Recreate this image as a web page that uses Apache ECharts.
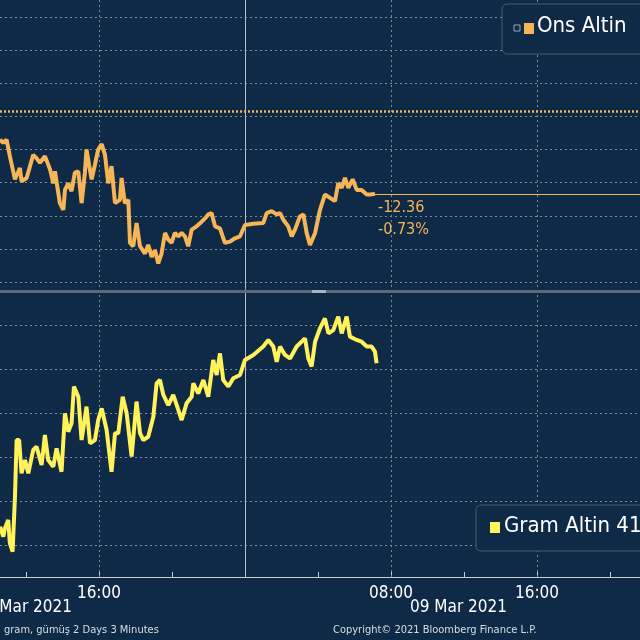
<!DOCTYPE html>
<html>
<head>
<meta charset="utf-8">
<script src="https://cdn.jsdelivr.net/npm/echarts@6/dist/echarts.min.js"></script>
<style>
  html,body{margin:0;padding:0;background:#0f2a47;}
  #main{width:640px;height:640px;}
</style>
</head>
<body>
<div id="main"></div>
<script>
// hours relative to 09 Mar 2021 00:00
var onsHours = [-13.42,-13.24,-13.06,-12.88,-12.60,-12.33,-12.24,-11.96,-11.60,-11.42,-11.23,-10.96,-10.68,-10.50,-10.41,-10.14,-9.95,-9.86,-9.68,-9.50,-9.32,-9.13,-8.95,-8.77,-8.68,-8.53,-8.40,-8.22,-8.04,-7.85,-7.67,-7.49,-7.31,-7.12,-6.85,-6.76,-6.58,-6.39,-6.30,-6.12,-5.94,-5.75,-5.48,-5.30,-5.11,-4.93,-4.75,-4.57,-4.38,-4.20,-4.02,-3.84,-3.65,-3.47,-3.29,-3.11,-2.92,-2.65,-2.37,-2.19,-2.01,-1.83,-1.64,-1.37,-1.10,-0.82,-0.55,-0.27,0,0.46,1.00,1.19,1.46,1.74,1.92,2.10,2.37,2.56,2.74,3.01,3.20,3.38,3.56,3.84,4.11,4.38,4.66,4.93,5.11,5.30,5.48,5.66,5.90,6.12,6.39,6.67,6.85,7.12];
var onsValues = [1691.5,1691.0,1691.5,1689.0,1685.5,1687.2,1685.2,1685.7,1689.2,1688.7,1688.0,1689.0,1687.0,1684.9,1686.7,1681.9,1680.9,1683.9,1684.9,1683.7,1686.5,1686.7,1681.9,1686.5,1690.0,1687.5,1685.5,1687.7,1690.0,1690.8,1689.2,1684.9,1687.5,1681.9,1682.4,1685.7,1681.9,1682.4,1675.9,1675.4,1678.9,1675.4,1674.3,1675.6,1673.8,1674.8,1672.8,1674.3,1677.4,1676.4,1675.9,1677.4,1676.9,1677.4,1676.9,1675.4,1677.9,1678.4,1679.1,1679.6,1680.2,1680.4,1678.4,1678.1,1675.9,1676.1,1676.6,1676.9,1678.6,1678.8,1678.9,1680.4,1680.7,1680.2,1680.4,1679.4,1678.4,1676.9,1677.9,1679.9,1680.2,1677.4,1675.6,1677.4,1680.9,1683.2,1682.7,1682.2,1684.9,1684.2,1685.7,1684.2,1685.5,1683.9,1683.9,1683.2,1683.2,1683.3];
var onsPrevClose = 1695.7;

var gramHours = [-13.42,-13.24,-13.15,-12.97,-12.88,-12.73,-12.60,-12.51,-12.37,-12.24,-12.05,-11.87,-11.60,-11.42,-11.14,-10.96,-10.78,-10.50,-10.32,-10.05,-9.86,-9.68,-9.50,-9.37,-9.13,-8.95,-8.68,-8.49,-8.22,-8.04,-7.85,-7.58,-7.31,-7.12,-6.94,-6.70,-6.48,-6.21,-5.94,-5.75,-5.57,-5.30,-5.02,-4.84,-4.66,-4.47,-4.20,-3.93,-3.65,-3.47,-3.20,-2.92,-2.83,-2.56,-2.28,-2.01,-1.74,-1.55,-1.37,-1.19,-0.91,-0.64,-0.27,0,0.46,1.00,1.28,1.55,1.74,1.92,2.19,2.47,2.83,3.29,3.47,3.65,3.84,4.11,4.38,4.57,4.84,5.11,5.30,5.57,5.75,6.12,6.39,6.67,6.94,7.12,7.21];
var gramValues = [404.83,404.38,404.76,405.14,404.08,403.70,406.20,408.77,408.77,407.26,407.86,407.26,408.32,408.47,407.64,409.00,407.86,407.56,408.39,407.33,409.98,409.15,409.53,411.20,410.74,408.77,410.29,408.62,408.77,409.68,410.21,409.23,407.33,409.08,409.08,410.74,409.98,408.02,410.52,409.08,408.77,408.92,409.83,411.35,411.50,410.82,410.36,410.82,410.14,409.68,410.44,410.74,411.35,410.89,411.50,410.74,412.41,411.73,412.71,411.50,411.20,411.58,411.73,412.41,412.64,413.02,413.32,413.02,412.33,413.02,412.64,412.48,413.02,413.39,412.48,412.11,413.24,413.85,414.30,413.62,413.77,414.38,413.62,414.38,413.47,413.32,413.24,413.02,413.02,412.79,412.26];

var xMin = -13.42, xMax = 21.64;
var tickHours = [-12,-8,-4,0,4,8,12,16,20];
var labelHours = [-8,8,16];
var tickLabels = {'-8':'16:00','8':'08:00','16':'16:00'};
var dateLabels = ['08 Mar 2021','09 Mar 2021'];

function pairs(xs, ys){ return xs.map(function(x,i){ return [x, ys[i]]; }); }

var FONT = '"Liberation Sans Narrow","DejaVu Sans Condensed",sans-serif';
var gridLine = {show:true, lineStyle:{color:'#7f8b9b', type:[2,3], width:1}};
var dash = {color:'#7f8b9b', type:[2,3], width:1};
var chart = echarts.init(document.getElementById('main'));
var lastOns = onsValues[onsValues.length-1];
var lastH = onsHours[onsHours.length-1];

var option = {
  backgroundColor:'#0f2a47',
  animation:false,
  grid:[
    {left:0, right:0, top:17, height:265},
    {left:0, right:0, top:325, height:220},
    {left:0, right:0, top:0, height:577}
  ],
  xAxis:[
    {gridIndex:0, type:'value', min:xMin, max:xMax, show:false},
    {gridIndex:1, type:'value', min:xMin, max:xMax, show:false},
    {gridIndex:2, type:'value', min:xMin, max:xMax,
     axisLine:{show:true, lineStyle:{color:'#c8ced6', width:1}},
     axisTick:{show:true, inside:true, length:5, customValues:tickHours, lineStyle:{color:'#c8ced6'}},
     splitLine:{show:false},
     axisLabel:{color:'#ffffff', fontSize:17, fontFamily:FONT, margin:8, customValues:labelHours,
       formatter:function(v){ return tickLabels[String(Math.round(v))] || ''; }}}
  ],
  yAxis:[
    {gridIndex:0, type:'value', min:1670, max:1710, interval:5, axisLabel:{show:false}, axisLine:{show:false}, axisTick:{show:false}, splitLine:gridLine},
    {gridIndex:1, type:'value', min:404, max:414, interval:2, axisLabel:{show:false}, axisLine:{show:false}, axisTick:{show:false}, splitLine:gridLine},
    {gridIndex:2, type:'value', min:0, max:1, show:false}
  ],
  series:[
    {type:'line', xAxisIndex:2, yAxisIndex:2, data:[], silent:true,
     markLine:{symbol:'none', silent:true, label:{show:false},
       data:[
         {xAxis:-8, lineStyle:dash},
         {xAxis:8, lineStyle:dash},
         {xAxis:16, lineStyle:dash},
         {xAxis:0, lineStyle:{color:'#b9c0c9', type:'solid', width:1}}
       ]}},
    {name:'Ons Altin', type:'line', xAxisIndex:0, yAxisIndex:0, data:pairs(onsHours, onsValues),
     showSymbol:false, clip:false, lineStyle:{color:'#f6b556', width:4}, z:5,
     markLine:{symbol:'none', silent:true, label:{show:false},
       data:[
         {yAxis:onsPrevClose, lineStyle:{color:'#f6b556', type:[2,2], width:2.5}},
         [{coord:[lastH,lastOns], lineStyle:{color:'#f6b556', type:'solid', width:1}},{coord:[xMax,lastOns]}]
       ]}},
    {name:'Gram Altin', type:'line', xAxisIndex:1, yAxisIndex:1, data:pairs(gramHours, gramValues),
     showSymbol:false, clip:false, lineStyle:{color:'#fff25a', width:4}, z:5}
  ],
  graphic:[
    {type:'rect', shape:{x:0,y:290,width:640,height:3}, style:{fill:'#5d6876'}, z:10},
    {type:'rect', shape:{x:312,y:290,width:14,height:3}, style:{fill:'#aab2bc'}, z:11},
    {type:'text', left:378, top:197, style:{text:'-12.36\n-0.73%', fill:'#f6b556', font:'16px '+FONT, lineHeight:22}, z:12},
    {type:'rect', shape:{x:502,y:4,width:150,height:50,r:5}, style:{fill:'#0f2a47', stroke:'#4a5a6d', lineWidth:1}, z:12},
    {type:'rect', shape:{x:514,y:25,width:6,height:6}, style:{fill:'none', stroke:'#9aa5b1', lineWidth:1}, z:13},
    {type:'rect', shape:{x:524,y:23,width:10,height:11}, style:{fill:'#f6b556'}, z:13},
    {type:'text', left:537, top:15, style:{text:'Ons Altin', fill:'#ffffff', font:'22px '+FONT}, z:13},
    {type:'rect', shape:{x:476,y:505,width:180,height:46,r:5}, style:{fill:'#0f2a47', stroke:'#4a5a6d', lineWidth:1}, z:12},
    {type:'rect', shape:{x:490,y:522,width:10,height:11}, style:{fill:'#fff25a'}, z:13},
    {type:'text', left:504, top:515, style:{text:'Gram Altin 412.26', fill:'#ffffff', font:'22px '+FONT}, z:13},
    {type:'text', left:-25, top:599, style:{text:dateLabels[0], fill:'#ffffff', font:'17px '+FONT}, z:13},
    {type:'text', left:410, top:599, style:{text:dateLabels[1], fill:'#ffffff', font:'17px '+FONT}, z:13},
    {type:'text', left:4, top:625, style:{text:'gram, gümüş 2 Days 3 Minutes', fill:'#d8dde3', font:'11px '+FONT}, z:13},
    {type:'text', left:333, top:625, style:{text:'Copyright© 2021 Bloomberg Finance L.P.', fill:'#d8dde3', font:'11px '+FONT}, z:13}
  ]
};
chart.setOption(option);
</script>
</body>
</html>
